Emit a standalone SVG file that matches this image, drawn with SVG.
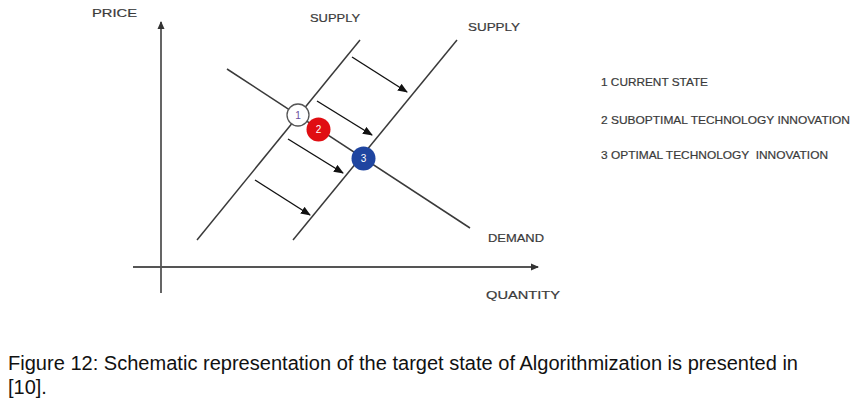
<svg xmlns="http://www.w3.org/2000/svg" width="858" height="405" viewBox="0 0 858 405">
<style>
.lbl{font-family:"Liberation Sans",Arial,sans-serif;fill:#3a3a3a;font-size:11.5px;stroke:#3a3a3a;stroke-width:0.2}
.line{stroke:#3a3a3a;stroke-width:1.5;fill:none}
.axis{stroke:#555;stroke-width:1.8;fill:none}
.arr{stroke:#111;stroke-width:1.4;fill:none;marker-end:url(#ah)}
.cap{font-family:"Liberation Sans",Arial,sans-serif;fill:#111;font-size:20px}
</style>
<defs>
<marker id="ah" markerWidth="10" markerHeight="8" refX="9" refY="4" orient="auto" markerUnits="userSpaceOnUse">
<path d="M0,0 L10,4 L0,8 Z" fill="#111"/>
</marker>
<marker id="axh" markerWidth="8" markerHeight="8" refX="7" refY="4" orient="auto" markerUnits="userSpaceOnUse">
<path d="M0,0.5 L8,4 L0,7.5 Z" fill="#333"/>
</marker>
</defs>
<rect width="858" height="405" fill="#fff"/>
<g id="axes">
<line class="axis" x1="161" y1="293" x2="161" y2="22" marker-end="url(#axh)"/>
<line class="axis" x1="133" y1="267" x2="538" y2="267" marker-end="url(#axh)"/>
</g>
<g id="connectors">
<line class="line" x1="197" y1="240" x2="360" y2="40"/>
<line class="line" x1="293" y1="240" x2="457" y2="40"/>
<line class="line" x1="227" y1="69" x2="470" y2="228"/>
<line class="arr" x1="352" y1="57" x2="407" y2="92"/>
<line class="arr" x1="317" y1="101" x2="372" y2="135"/>
<line class="arr" x1="288" y1="139" x2="343" y2="173"/>
<line class="arr" x1="255" y1="180" x2="310" y2="215"/>
</g>
<g id="node1">
<circle cx="298" cy="115" r="11" fill="#fff" stroke="#555" stroke-width="1.3"/>
<text x="298" y="118.5" text-anchor="middle" font-family="Liberation Sans,Arial,sans-serif" font-size="10" fill="#6a4c9c">1</text>
</g>
<g id="node2">
<circle cx="318.5" cy="129.5" r="12" fill="#e00d12"/>
<text x="318.5" y="133" text-anchor="middle" font-family="Liberation Sans,Arial,sans-serif" font-size="10" fill="#fff">2</text>
</g>
<g id="node3">
<circle cx="363.5" cy="158.5" r="12" fill="#1f45a0"/>
<text x="363.5" y="162" text-anchor="middle" font-family="Liberation Sans,Arial,sans-serif" font-size="10" fill="#fff">3</text>
</g>
<g id="labels">
<text class="lbl" x="92" y="17" font-size="12.5" textLength="45" lengthAdjust="spacingAndGlyphs">PRICE</text>
<text class="lbl" x="310" y="22" textLength="50" lengthAdjust="spacingAndGlyphs">SUPPLY</text>
<text class="lbl" x="468" y="31" textLength="52" lengthAdjust="spacingAndGlyphs">SUPPLY</text>
<text class="lbl" x="488" y="242" textLength="56" lengthAdjust="spacingAndGlyphs">DEMAND</text>
<text class="lbl" x="486" y="299" textLength="74" lengthAdjust="spacingAndGlyphs">QUANTITY</text>
</g>
<g id="legend">
<text class="lbl" x="601" y="86" textLength="107" lengthAdjust="spacingAndGlyphs">1 CURRENT STATE</text>
<text class="lbl" x="601" y="124" textLength="249" lengthAdjust="spacingAndGlyphs">2 SUBOPTIMAL TECHNOLOGY INNOVATION</text>
<text class="lbl" x="601" y="159" textLength="227" lengthAdjust="spacingAndGlyphs" xml:space="preserve">3 OPTIMAL TECHNOLOGY  INNOVATION</text>
</g>
<g id="caption">
<text class="cap" x="8" y="370" textLength="790" lengthAdjust="spacingAndGlyphs">Figure 12: Schematic representation of the target state of Algorithmization is presented in</text>
<text class="cap" x="8" y="394">[10].</text>
</g>
</svg>
